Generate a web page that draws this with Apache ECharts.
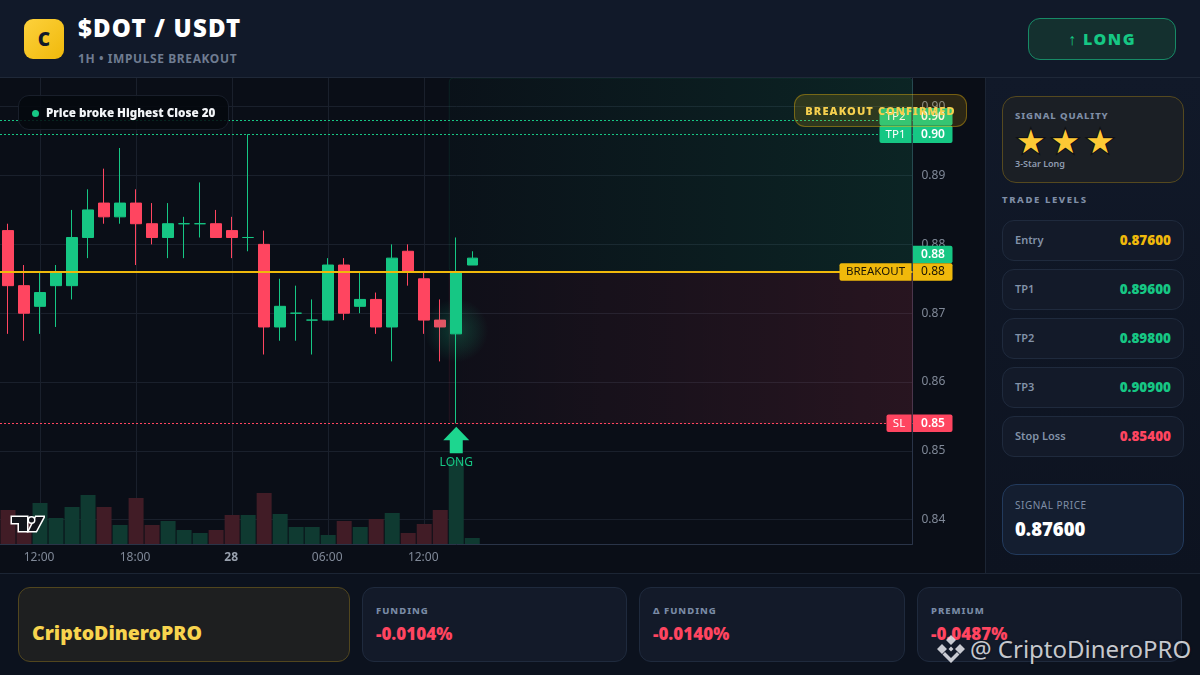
<!DOCTYPE html>
<html><head><meta charset="utf-8">
<script src="https://cdn.jsdelivr.net/npm/echarts@6/dist/echarts.min.js"></script>
<style>
*{box-sizing:border-box}
html,body{margin:0;width:1200px;height:675px;overflow:hidden;background:#0c121e;font-family:"Noto Sans",sans-serif}
.abs{position:absolute}
#header{left:0;top:0;width:1200px;height:78px;background:#111929;border-bottom:1px solid #1f2838}
#logo{left:24px;top:19px;width:40px;height:40px;border-radius:9px;background:linear-gradient(135deg,#fdd13c,#f0b90b);color:#111929;font:900 19px/40px "Noto Sans";text-align:center}
#title{left:78px;top:11px;color:#fff;font:900 24px/34px "Noto Sans";letter-spacing:1.2px;white-space:nowrap}
#sub{left:78px;top:50px;color:#6f7c91;font:700 12px/18px "Noto Sans";letter-spacing:.6px;white-space:nowrap}
#long{left:1028px;top:18px;width:148px;height:42px;border-radius:12px;background:#14302f;border:1px solid #178a66;color:#16c784;font:900 16px/40px "Noto Sans";letter-spacing:1.5px;text-align:center}
#chart{left:0;top:78px;width:985px;height:495px;background:#0a0e17}
#badge{left:18px;top:95px;width:211px;height:35px;border-radius:11px;background:rgba(5,8,14,.85);border:1px solid #191f2b;color:#f2f4f7;font:900 11.650px/33px "Noto Sans";padding-left:27px;white-space:nowrap}
#badge i{position:absolute;left:13px;top:14px;width:7px;height:7px;border-radius:50%;background:#16c784}
#confirm{left:794px;top:94px;width:173px;height:33px;border-radius:11px;background:rgba(240,185,11,.15);border:1px solid rgba(240,185,11,.38);color:#f6cf4e;font:900 11px/31px "Noto Sans";letter-spacing:1.1px;text-align:center;white-space:nowrap}
#side{left:985px;top:78px;width:215px;height:495px;background:linear-gradient(180deg,#111929,#0d1320);border-left:1px solid #1c2534}
.card{position:absolute;border-radius:12px;border:1px solid #1f2a3d;background:#131a29}
#quality{left:1002px;top:96px;width:182px;height:87px;border-color:#55491f;background:#1b1f25;border-radius:14px}
.lbl{position:absolute;color:#7f8ea6;white-space:nowrap}
#levels{left:1002px;top:192px;font:800 9.5px/16px "Noto Sans";letter-spacing:1.6px}
.row .n{position:absolute;left:12px;top:10px;color:#8292a8;font:600 11px/18px "Noto Sans"}
.row .v{position:absolute;right:12px;top:9px;font:900 13.5px/20px "Noto Sans"}
#price{left:1002px;top:484px;width:182px;height:71px;background:#141e30;border-color:#223a5c;border-radius:14px}
#foot{left:0;top:573px;width:1200px;height:102px;background:#0c121e;border-top:1px solid #1c2534}
#brand{left:18px;top:587px;width:332px;height:75px;background:#1e1f20;border-color:#51461e;border-radius:12px;color:#f8d44e;font:900 19.500px/25px "Noto Sans";padding:32px 0 0 13px;white-space:nowrap}
.f .t{position:absolute;left:13px;top:15px;color:#7a8ba5;font:800 9.5px/16px "Noto Sans";letter-spacing:1px}
.f .p{position:absolute;left:13px;top:34px;color:#ff4560;font:900 17px/24px "Noto Sans"}
#wm{left:970px;top:633px;color:rgba(225,227,232,.88);font:400 24px/32px "Noto Sans";white-space:nowrap;text-shadow:0 0 2px rgba(0,0,0,.5)}
</style></head><body>
<div id="chart" class="abs"></div>
<div id="header" class="abs"></div>
<div id="logo" class="abs">C</div>
<div id="title" class="abs">$DOT / USDT</div>
<div id="sub" class="abs">1H • IMPULSE BREAKOUT</div>
<div id="long" class="abs">↑ LONG</div>
<div id="badge" class="abs"><i></i>Price broke Highest Close 20</div>
<div id="confirm" class="abs">BREAKOUT CONFIRMED</div>
<svg class="abs" style="left:9px;top:514px" width="36" height="20" viewBox="0 0 36 20"><g fill="#12141b" stroke="#fff" stroke-width="3" style="paint-order:stroke"><path d="M3 3H18V17H10V9H3Z"/><path d="M27 3H34.500L27 17H20Z"/><circle cx="22.500" cy="6" r="2.500"/></g></svg>
<div id="side" class="abs"></div>
<div id="quality" class="card">
  <div class="lbl" style="left:12px;top:11px;font:800 9.5px/16px 'Noto Sans';letter-spacing:.9px">SIGNAL QUALITY</div>
  <div id="stars" class="lbl" style="left:13px;top:25px;font:33px/40px 'DejaVu Sans';color:#fdc935;letter-spacing:5px;-webkit-text-stroke:2px #0d0f14;paint-order:stroke fill">★★★</div>
  <div class="lbl" style="left:12px;top:59px;font:600 9px/15px 'Noto Sans';color:#8e9bb0">3-Star Long</div>
</div>
<div id="levels" class="lbl abs">TRADE LEVELS</div>
<div id="rows"></div>
<div id="price" class="card">
  <div class="lbl" style="left:12px;top:12px;font:400 10px/16px 'Noto Sans';letter-spacing:.5px">SIGNAL PRICE</div>
  <div class="lbl" style="left:12px;top:31px;font:900 18.500px/26px 'Noto Sans';color:#fff">0.87600</div>
</div>
<div id="foot" class="abs"></div>
<div id="brand" class="card">CriptoDineroPRO</div>
<div id="feet"></div>
<svg class="abs" style="left:936px;top:634px" width="30" height="30" viewBox="0 0 30 30" fill="rgba(225,227,232,.88)"><path d="M15 1l5 5-5 5-5-5zM6 10l5 5-5 5-5-5zM24 10l5 5-5 5-5-5zM15 12.500l2.500 2.500-2.500 2.500-2.500-2.500zM9 18l6 6 6-6 2.500 2.500L15 29l-8.500-8.500z"/></svg>
<div id="wm" class="abs">@ CriptoDineroPRO</div>
<script>
// [open, close, low, high]
const candles = [
[0.882,0.874,0.867,0.883],[0.874,0.870,0.866,0.877],[0.871,0.873,0.867,0.876],[0.874,0.876,0.868,0.877],
[0.874,0.881,0.872,0.885],[0.881,0.885,0.878,0.888],[0.886,0.884,0.883,0.891],[0.884,0.886,0.883,0.894],
[0.886,0.883,0.877,0.888],[0.883,0.881,0.880,0.886],[0.881,0.883,0.878,0.886],[0.883,0.883,0.878,0.884],
[0.883,0.883,0.881,0.889],[0.883,0.881,0.881,0.885],[0.882,0.881,0.878,0.884],[0.881,0.881,0.879,0.896],
[0.880,0.868,0.864,0.882],[0.868,0.871,0.866,0.875],[0.870,0.870,0.866,0.874],[0.869,0.869,0.864,0.872],
[0.869,0.877,0.869,0.878],[0.877,0.870,0.869,0.878],[0.871,0.872,0.870,0.876],[0.872,0.868,0.867,0.873],
[0.868,0.878,0.863,0.880],[0.879,0.876,0.874,0.880],[0.875,0.869,0.867,0.876],[0.869,0.868,0.863,0.872],
[0.867,0.876,0.854,0.881],[0.877,0.878,0.877,0.879]];
const volumes = [34,24,41,26,37,49,37,19,46,19,23,14,11,14,29,29,51,30,17,17,9,23,17,25,31,11,20,34,84,6];
const categoryCount = 57;
const tickIndexes = [2,8,14,20,26];
const tickLabels = ['12:00','18:00','28','06:00','12:00'];
const priceTicks = [0.84,0.85,0.86,0.87,0.88,0.89,0.90];
const yMin = 0.83647, yMax = 0.90417;
const entry = 0.876, tp1 = 0.896, tp2 = 0.898, tp3 = 0.909, stopLoss = 0.854, lastPrice = 0.878;
const signalIndex = 28;
const tagNames = ['TP2','TP1','','BREAKOUT','SL'];
const tagPrices = [tp2,tp1,lastPrice,entry,stopLoss];
const tagColors = ['#16c784','#16c784','#16c784','#f0b90b','#ff4560'];
const tagText = ['#fff','#fff','#fff','#1a1405','#fff'];
const levelNames = ['Entry','TP1','TP2','TP3','Stop Loss'];
const levelValues = ['0.87600','0.89600','0.89800','0.90900','0.85400'];
const levelColors = ['#f0b90b','#16c784','#16c784','#16c784','#ff4560'];
const footNames = ['FUNDING','Δ FUNDING','PREMIUM'];
const footValues = ['-0.0104%','-0.0140%','-0.0487%'];

const UP='#16c784',DOWN='#ff4560';
levelNames.forEach((n,i)=>{
  const d=document.createElement('div');d.className='card row';
  d.style.cssText=`left:1002px;top:${220+49*i}px;width:182px;height:41px`;
  d.innerHTML=`<span class="n">${n}</span><span class="v" style="color:${levelColors[i]}">${levelValues[i]}</span>`;
  document.getElementById('rows').appendChild(d);
});
const footX=[362,639,917],footW=[265,266,265];
footNames.forEach((n,i)=>{
  const d=document.createElement('div');d.className='card f';
  d.style.cssText=`left:${footX[i]}px;top:587px;width:${footW[i]}px;height:75px`;
  d.innerHTML=`<span class="t">${n}</span><span class="p">${footValues[i]}</span>`;
  document.getElementById('feet').appendChild(d);
});

const categories = Array(categoryCount).fill('').map((_,i)=>{const k=tickIndexes.indexOf(i);return k<0?'c'+i:tickLabels[k];});
const isTick = i => tickIndexes.indexOf(i)>=0;
const FONT='"Noto Sans"';
const mctx=document.createElement('canvas').getContext('2d');mctx.font='11.5px '+FONT;

const chart = echarts.init(document.getElementById('chart'),null,{renderer:'canvas'});
function dash(v,c,t,w){return {yAxis:v,lineStyle:{color:c,type:t,width:w}};}
chart.setOption({
  animation:false,
  backgroundColor:'#0a0e17',
  grid:[
    {left:-0.5,top:0,width:913,height:466,containLabel:false},
    {left:-0.5,top:366,width:913,height:100,containLabel:false}
  ],
  xAxis:[
    {type:'category',gridIndex:0,data:categories,boundaryGap:true,
     axisLine:{show:true,lineStyle:{color:'#2a3448'}},axisTick:{show:false,alignWithLabel:true,interval:i=>isTick(i)},
     splitLine:{show:true,alignWithLabel:true,interval:i=>isTick(i),lineStyle:{color:'#1a202c',width:1}},
     axisLabel:{interval:i=>isTick(i),margin:8,padding:[0,2,0,0],color:'#808998',fontSize:12,fontFamily:FONT,
       formatter:v=>v==='28'?'{b|28}':v,rich:{b:{fontWeight:'bold',fontSize:12,color:'#98a0ad',fontFamily:FONT}}}},
    {type:'category',gridIndex:1,data:categories,boundaryGap:true,axisLine:{show:false},axisTick:{show:false},axisLabel:{show:false},splitLine:{show:false}}
  ],
  yAxis:[
    {type:'value',gridIndex:0,position:'right',min:yMin,max:yMax,
     axisLine:{show:true,lineStyle:{color:'#2a3448'}},
     axisTick:{show:false,customValues:priceTicks},
     splitLine:{show:true,lineStyle:{color:'#1a202c',width:1}},
     axisLabel:{customValues:priceTicks,margin:9,padding:[2,0,0,0],color:'#808998',fontSize:12,fontFamily:FONT,formatter:v=>v.toFixed(2)}},
    {type:'value',gridIndex:1,min:0,max:100,show:false}
  ],
  series:[
    {type:'custom',name:'zones',xAxisIndex:0,yAxisIndex:0,z:1,silent:true,encode:{x:0,y:1},
     data:[[signalIndex,tp3,entry,0],[signalIndex,entry,stopLoss,1]],
     renderItem(p,api){
       const cs=p.coordSys,band=api.size([1,0])[0];
       const x=api.coord([api.value(0),entry])[0]-band/2+1;
       const y1=Math.max(api.coord([0,api.value(1)])[1],cs.y);
       const y2=api.coord([0,api.value(2)])[1];
       const green=api.value(3)===0;
       const c=green?'22,199,132':'255,69,96';
       return {type:'rect',shape:{x:x,y:y1,width:cs.x+cs.width-x,height:y2-y1,r:4},
         style:{fill:new echarts.graphic.LinearGradient(0,0,1,0,[{offset:0,color:`rgba(${c},.02)`},{offset:1,color:`rgba(${c},.12)`}]),
                stroke:`rgba(${c},.1)`,lineWidth:1}};
     }},
    {type:'bar',name:'volume',xAxisIndex:1,yAxisIndex:1,z:2,barWidth:15,silent:true,
     data:volumes.map((v,i)=>({value:v,itemStyle:{color:candles[i][1]<candles[i][0]?'#411c26':'#0f3a31'}}))},
    {type:'candlestick',name:'DOT/USDT',xAxisIndex:0,yAxisIndex:0,z:3,barWidth:11,silent:true,
     data:candles,
     itemStyle:{color:UP,color0:DOWN,borderColor:UP,borderColor0:DOWN,borderColorDoji:UP,borderWidth:1},
     markLine:{silent:true,symbol:'none',precision:4,label:{show:false},animation:false,
       data:[dash(tp2,UP,[2,2],1),dash(tp1,UP,[2,2],1),dash(stopLoss,DOWN,[2,2],1),dash(entry,'#f0b90b','solid',2)]}},
    {type:'custom',name:'glow',xAxisIndex:0,yAxisIndex:0,z:4,silent:true,encode:{x:0,y:1},
     data:[[signalIndex,0.8675]],
     renderItem(p,api){
       const c=api.coord([api.value(0),api.value(1)]);
       return {type:'circle',shape:{cx:c[0],cy:c[1],r:32},style:{fill:new echarts.graphic.RadialGradient(.5,.5,.5,[{offset:0,color:'rgba(22,199,132,.24)'},{offset:.6,color:'rgba(22,199,132,.1)'},{offset:1,color:'rgba(22,199,132,0)'}])}};
     }},
    {type:'custom',name:'signal',xAxisIndex:0,yAxisIndex:0,z:5,silent:true,encode:{x:0,y:1},clip:false,
     data:[[signalIndex,stopLoss]],
     renderItem(p,api){
       const c=api.coord([api.value(0),api.value(1)]),x=c[0],y=c[1];
       return {type:'group',children:[
         {type:'polygon',shape:{points:[[x,y+3.5],[x+13,y+17],[x+6.5,y+17],[x+6.5,y+30],[x-6.5,y+30],[x-6.5,y+17],[x-13,y+17]]},style:{fill:'#1dd68f'}},
         {type:'text',style:{x:x,y:y+39,text:'LONG',fill:'#16c784',font:'12px '+FONT,align:'center',verticalAlign:'middle'}}
       ]};
     }},
    {type:'custom',name:'tags',xAxisIndex:0,yAxisIndex:0,z:6,silent:true,encode:{x:0,y:1},clip:false,
     data:tagPrices.map(v=>[0,v]),
     renderItem(p,api){
       const i=p.dataIndex,cs=p.coordSys,H=17.5;
       // tags that would overlap are pushed upward, as a price scale does
       const ys=tagPrices.map(v=>api.coord([0,v])[1]);
       for(let k=ys.length-2;k>=0;k--) if(ys[k]>ys[k+1]-H) ys[k]=ys[k+1]-H;
       const y=ys[i],r=cs.x+cs.width,children=[];
       const name=tagNames[i],col=tagColors[i],tx=tagText[i];
       const bold=tx==='#fff'?'600 ':'';
       children.push({type:'rect',shape:{x:r+.5,y:y-H/2,width:39.5,height:H,r:[0,2,2,0]},style:{fill:col}});
       children.push({type:'text',style:{x:r+20.5,y:y,text:tagPrices[i].toFixed(2),fill:tx,font:bold+'12px '+FONT,align:'center',verticalAlign:'middle'}});
       if(name){
         const w=Math.ceil(mctx.measureText(name).width)+13;
         children.push({type:'rect',shape:{x:r-w,y:y-H/2,width:w-1,height:H,r:[2,0,0,2]},style:{fill:col}});
         children.push({type:'text',style:{x:r-w/2-.5,y:y,text:name,fill:tx,font:'11.5px '+FONT,align:'center',verticalAlign:'middle'}});
       }
       return {type:'group',children};
     }}
  ]
});
</script>
</body></html>
